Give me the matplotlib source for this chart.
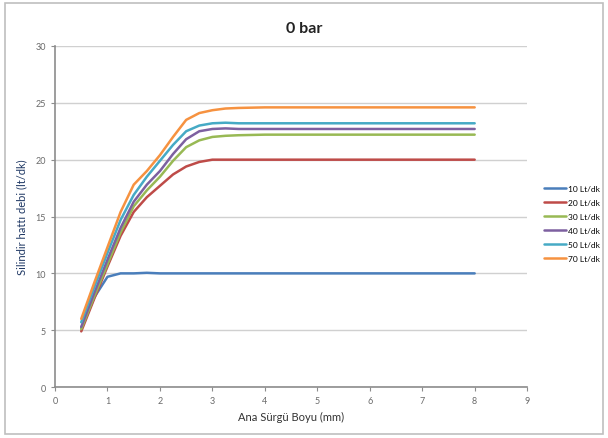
import numpy as np
import matplotlib
matplotlib.use("Agg")
import matplotlib.pyplot as plt
from matplotlib.patches import Rectangle

plt.rcParams["font.family"] = ["Lato", "DejaVu Sans"]

# Ana sürgü boyu (mm)
x = [0.5, 0.75, 1.0, 1.25, 1.5, 1.75, 2.0, 2.25, 2.5, 2.75, 3.0, 3.25, 3.5, 4, 5, 6, 7, 8]

q10 = [5.2, 7.9, 9.7, 10.0, 10.0, 10.05, 10.0, 10.0, 10.0, 10.0, 10.0, 10.0, 10.0, 10.0, 10.0, 10.0, 10.0, 10.0]
q20 = [4.9, 7.8, 10.6, 13.3, 15.4, 16.7, 17.7, 18.7, 19.4, 19.8, 20.0, 20.0, 20.0, 20.0, 20.0, 20.0, 20.0, 20.0]
q30 = [5.1, 8.0, 10.8, 13.6, 15.9, 17.3, 18.5, 19.9, 21.1, 21.7, 22.0, 22.1, 22.15, 22.2, 22.2, 22.2, 22.2, 22.2]
q40 = [5.3, 8.3, 11.2, 14.0, 16.3, 17.8, 19.0, 20.5, 21.8, 22.5, 22.7, 22.75, 22.7, 22.7, 22.7, 22.7, 22.7, 22.7]
q50 = [5.7, 8.8, 11.8, 14.7, 16.9, 18.5, 19.9, 21.3, 22.5, 23.0, 23.2, 23.25, 23.2, 23.2, 23.2, 23.2, 23.2, 23.2]
q70 = [6.0, 9.2, 12.3, 15.4, 17.8, 19.0, 20.4, 22.0, 23.5, 24.1, 24.35, 24.5, 24.55, 24.6, 24.6, 24.6, 24.6, 24.6]

series = [
    ("10 Lt/dk", q10, "#4A7EBB"),
    ("20 Lt/dk", q20, "#BE4B48"),
    ("30 Lt/dk", q30, "#98B954"),
    ("40 Lt/dk", q40, "#7D60A0"),
    ("50 Lt/dk", q50, "#46AAC5"),
    ("70 Lt/dk", q70, "#F69240"),
]

fig = plt.figure(figsize=(6.08, 4.39), dpi=100)
ax = fig.add_axes([0.0905, 0.116, 0.7765, 0.777])

for label, vals, color in series:
    ax.plot(x, vals, color=color, lw=1.8, label=label,
            solid_capstyle="round", solid_joinstyle="round")

ax.set_xlim(0, 9)
ax.set_ylim(0, 30)
ax.set_xticks(range(0, 10))
ax.set_yticks(range(0, 31, 5))
ax.yaxis.grid(True, color="#D0D0D0", lw=1)
ax.set_axisbelow(True)
for s in ["top", "right"]:
    ax.spines[s].set_visible(False)
for s in ["left", "bottom"]:
    ax.spines[s].set_color("#8C8C8C")
    ax.spines[s].set_linewidth(1.2)
ax.tick_params(axis="both", labelsize=6.5, labelcolor="#6A6A6A", color="#8C8C8C", length=3)

ax.set_xlabel("Ana Sürgü Boyu (mm)", fontsize=8, color="#333333", labelpad=4)
ax.set_ylabel("Silindir hattı debi (lt/dk)", fontsize=8, color="#1F3864", labelpad=6)
fig.text(0.5, 0.935, "0 bar", ha="center", va="center", fontsize=11.5, fontweight="bold", color="#222222")

ax.legend(loc="center left", bbox_to_anchor=(1.02, 0.48), frameon=False, fontsize=6,
          handlelength=2.6, labelspacing=0.85, handletextpad=0.3)

fig.patches.append(Rectangle((0.008, 0.008), 0.984, 0.982, transform=fig.transFigure,
                             fill=False, edgecolor="#BFBFBF", lw=1.2))

fig.savefig("out.png", dpi=100)
